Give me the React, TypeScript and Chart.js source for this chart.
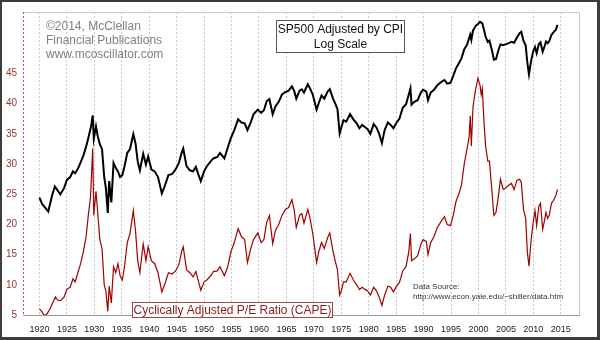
import React, { useEffect, useRef } from "react";
import { Chart, registerables } from "chart.js";

Chart.register(...registerables);

const FONT = "Arial, 'Liberation Sans', sans-serif";

const xTickYears = [1920, 1925, 1930, 1935, 1940, 1945, 1950, 1955, 1960, 1965, 1970, 1975, 1980, 1985, 1990, 1995, 2000, 2005, 2010, 2015];
const yTickValues = [5, 10, 15, 20, 25, 30, 35, 40, 45];

// Cyclically adjusted P/E ratio (CAPE)
const capeYears = [
  1920.0, 1920.4, 1920.9, 1921.4, 1921.9, 1922.4, 1922.9, 1923.4, 1923.9, 1924.5,
  1925.0, 1925.6, 1926.1, 1926.5, 1927.0, 1927.5, 1928.0, 1928.5, 1928.9, 1929.3,
  1929.7, 1929.9, 1930.3, 1930.7, 1931.0, 1931.4, 1931.8, 1932.1, 1932.45, 1932.7,
  1933.1, 1933.5, 1933.9, 1934.3, 1934.7, 1935.1, 1935.5, 1936.0, 1936.5, 1937.1,
  1937.5, 1937.9, 1938.3, 1938.9, 1939.4, 1939.8, 1940.4, 1941.0, 1941.6, 1942.3,
  1942.8, 1943.5, 1944.2, 1944.8, 1945.4, 1945.9, 1946.2, 1946.8, 1947.4, 1948.0,
  1948.5, 1949.0, 1949.4, 1950.0, 1950.5, 1951.2, 1951.7, 1952.4, 1952.9, 1953.7,
  1954.3, 1954.9, 1955.5, 1956.2, 1956.8, 1957.4, 1957.9, 1958.5, 1959.0, 1959.8,
  1960.4, 1960.9, 1961.4, 1961.9, 1962.5, 1963.0, 1963.6, 1964.2, 1964.8, 1965.4,
  1966.0, 1966.4, 1966.8, 1967.4, 1967.8, 1968.2, 1968.9, 1969.3, 1969.8, 1970.5,
  1970.9, 1971.4, 1971.9, 1972.5, 1972.9, 1973.5, 1973.8, 1974.3, 1974.7, 1975.0,
  1975.4, 1975.9, 1976.6, 1977.2, 1977.8, 1978.3, 1978.8, 1979.4, 1979.8, 1980.3,
  1980.9, 1981.4, 1981.9, 1982.4, 1982.9, 1983.5, 1984.0, 1984.5, 1985.0, 1985.6,
  1986.2, 1986.8, 1987.3, 1987.6, 1987.8, 1988.3, 1988.9, 1989.5, 1989.9, 1990.5,
  1990.8, 1991.3, 1991.9, 1992.5, 1993.2, 1993.8, 1994.3, 1994.9, 1995.4, 1995.9,
  1996.4, 1996.9, 1997.4, 1997.9, 1998.3, 1998.5, 1998.7, 1999.0, 1999.5, 1999.9,
  2000.3, 2000.5, 2000.7, 2001.0, 2001.3, 2001.7, 2002.0, 2002.5, 2002.8, 2003.2,
  2003.6, 2004.0, 2004.5, 2004.9, 2005.5, 2006.0, 2006.5, 2007.0, 2007.5, 2007.8,
  2008.2, 2008.6, 2008.9, 2009.2, 2009.6, 2010.0, 2010.3, 2010.6, 2011.0, 2011.3,
  2011.7, 2012.0, 2012.3, 2012.6, 2012.9, 2013.3, 2013.7, 2014.1, 2014.4,
];
const capeValues = [
  6.0, 5.6, 4.9, 5.2, 6.0, 7.0, 8.0, 7.4, 7.4, 8.0,
  9.3, 9.6, 11.0, 10.5, 12.0, 13.5, 15.5, 18.0, 21.5, 24.5,
  32.6, 21.5, 25.5, 21.0, 17.5, 16.0, 10.0, 9.0, 5.6, 9.8,
  7.0, 13.0, 12.0, 13.5, 11.5, 10.8, 13.0, 17.0, 18.5, 22.3,
  19.0, 14.0, 12.0, 16.8, 14.0, 16.3, 14.0, 13.5, 12.0, 8.8,
  10.0, 12.0, 11.8, 12.3, 13.3, 15.5, 16.3, 12.5, 12.0, 11.3,
  12.2, 10.5, 9.1, 10.5, 10.8, 11.5, 12.2, 12.3, 13.0, 11.5,
  13.0, 15.5, 17.0, 19.3, 18.0, 17.5, 13.7, 16.0, 17.5, 18.6,
  17.0, 17.5, 20.3, 21.5, 16.8, 19.0, 20.0, 21.5, 22.5, 22.8,
  24.1, 22.5, 19.5, 21.5, 21.8, 20.2, 22.5, 21.0, 18.5, 13.7,
  15.5, 17.0, 16.0, 17.8, 18.6, 15.5, 14.3, 12.5, 8.3, 9.0,
  10.5, 10.5, 11.9, 10.8, 10.0, 9.2, 9.6, 9.2, 9.0, 8.3,
  9.6, 9.0, 8.0, 6.6, 8.3, 9.8, 9.6, 8.8, 9.7, 10.4,
  12.3, 13.0, 15.5, 18.5, 14.0, 14.3, 14.8, 16.7, 17.5, 17.2,
  15.0, 17.0, 18.0, 19.5, 20.5, 21.3, 20.0, 19.8, 21.5, 23.8,
  25.0, 26.5, 30.0, 32.5, 34.5, 38.0, 33.0, 39.5, 42.5, 44.2,
  43.0, 41.5, 42.5, 37.0, 33.0, 30.5, 30.5, 25.0, 21.5, 22.0,
  24.5, 27.5, 25.8, 26.0, 26.5, 26.8, 25.8, 27.3, 27.5, 27.0,
  22.5, 21.0, 15.5, 13.1, 17.5, 20.5, 22.3, 19.8, 23.0, 23.5,
  19.2, 20.5, 22.0, 21.0, 21.5, 23.5, 24.0, 24.8, 25.8,
];

// S&P 500 adjusted by CPI (real price, log scale)
const spYears = [
  1920.0, 1920.5, 1921.0, 1921.6, 1922.3, 1922.8, 1923.3, 1923.8, 1924.5, 1925.0,
  1925.6, 1926.1, 1926.5, 1927.0, 1927.5, 1928.0, 1928.5, 1929.0, 1929.4, 1929.7,
  1929.9, 1930.3, 1930.6, 1931.0, 1931.4, 1931.8, 1932.1, 1932.45, 1932.7, 1933.1,
  1933.5, 1933.9, 1934.3, 1934.7, 1935.1, 1935.5, 1936.0, 1936.5, 1937.1, 1937.5,
  1937.9, 1938.3, 1938.9, 1939.4, 1939.8, 1940.4, 1941.0, 1941.6, 1942.3, 1942.8,
  1943.5, 1944.2, 1944.8, 1945.4, 1945.9, 1946.2, 1946.8, 1947.4, 1948.0, 1948.5,
  1949.0, 1949.4, 1950.0, 1950.5, 1951.2, 1951.7, 1952.4, 1952.9, 1953.7, 1954.3,
  1954.9, 1955.5, 1956.2, 1956.8, 1957.4, 1957.9, 1958.5, 1959.0, 1959.8, 1960.4,
  1960.9, 1961.4, 1961.9, 1962.5, 1963.0, 1963.6, 1964.2, 1964.8, 1965.4, 1966.0,
  1966.4, 1966.8, 1967.4, 1967.8, 1968.2, 1968.9, 1969.3, 1969.8, 1970.5, 1970.9,
  1971.4, 1971.9, 1972.5, 1972.9, 1973.5, 1973.8, 1974.3, 1974.7, 1975.0, 1975.4,
  1975.9, 1976.6, 1977.2, 1977.8, 1978.3, 1978.8, 1979.4, 1979.8, 1980.3, 1980.9,
  1981.4, 1981.9, 1982.4, 1982.9, 1983.5, 1984.0, 1984.5, 1985.0, 1985.6, 1986.2,
  1986.8, 1987.3, 1987.6, 1987.8, 1988.3, 1988.9, 1989.5, 1989.9, 1990.5, 1990.8,
  1991.3, 1991.9, 1992.5, 1993.2, 1993.8, 1994.3, 1994.9, 1995.4, 1995.9, 1996.4,
  1996.9, 1997.4, 1997.9, 1998.5, 1998.7, 1999.0, 1999.5, 1999.9, 2000.3, 2000.7,
  2001.0, 2001.3, 2001.7, 2002.0, 2002.5, 2002.8, 2003.2, 2003.6, 2004.0, 2004.5,
  2004.9, 2005.5, 2006.0, 2006.5, 2007.0, 2007.5, 2007.8, 2008.2, 2008.6, 2008.9,
  2009.2, 2009.6, 2010.0, 2010.3, 2010.6, 2011.0, 2011.3, 2011.7, 2012.0, 2012.3,
  2012.6, 2012.9, 2013.3, 2013.7, 2014.1, 2014.4,
];
const spValues = [
  106, 95, 90, 84, 110, 128, 120, 112, 125, 143,
  150, 165, 160, 172, 192, 215, 250, 300, 350, 423,
  285, 352, 300, 260, 240, 150, 125, 82, 140, 98,
  190, 175, 165, 150, 155, 180, 225, 240, 308, 265,
  195, 168, 222, 185, 212, 170, 165, 150, 114, 128,
  155, 158, 170, 190, 225, 242, 180, 168, 165, 178,
  155, 140, 165, 180, 195, 205, 210, 225, 205, 245,
  290, 330, 395, 375, 370, 330, 375, 430, 465, 440,
  460, 535, 555, 430, 490, 530, 600, 625, 640, 688,
  640, 560, 640, 655, 620, 712, 665, 600, 465, 520,
  590, 560, 630, 655, 560, 525, 470, 312, 345, 390,
  380, 432, 395, 370, 340, 360, 345, 335, 310, 365,
  345, 310, 265, 330, 375, 360, 340, 370, 400, 480,
  510, 600, 665, 505, 530, 545, 620, 650, 630, 545,
  620, 650, 700, 740, 765, 720, 730, 820, 930, 1010,
  1100, 1280, 1380, 1640, 1500, 1750, 1900, 1960, 2030, 1980,
  1780, 1580, 1450, 1480, 1240, 1075, 1090, 1250, 1390, 1370,
  1390, 1420, 1450, 1430, 1560, 1680, 1720, 1480, 1370, 1030,
  840, 1060, 1250, 1330, 1200, 1400, 1440, 1230, 1330, 1460,
  1420, 1470, 1630, 1710, 1780, 1930,
];

const copyrightLines = ["\u00A92014, McClellan", "Financial Publications", "www.mcoscillator.com"];
const spTitleLines = ["SP500 Adjusted by CPI", "Log Scale"];
const capeTitle = "Cyclically Adjusted P/E Ratio (CAPE)";
const sourceLines = ["Data Source:", "http://www.econ.yale.edu/~shiller/data.htm"];

const framePlugin = {
  id: "frame",
  beforeDraw(chart: any) {
    const { ctx, width, height } = chart;
    ctx.save();
    ctx.fillStyle = "#ffffff";
    ctx.fillRect(0, 0, width, height);
    ctx.restore();
  },
  beforeDatasetsDraw(chart: any) {
    const { ctx, chartArea: a } = chart;
    ctx.save();
    ctx.lineWidth = 1;
    ctx.strokeStyle = "#c8c8c8";
    ctx.beginPath();
    ctx.moveTo(a.left, a.top + 0.5);
    ctx.lineTo(a.right - 0.5, a.top + 0.5);
    ctx.lineTo(a.right - 0.5, a.bottom);
    ctx.stroke();
    ctx.strokeStyle = "#9a9a9a";
    ctx.beginPath();
    ctx.moveTo(a.left, a.bottom + 0.5);
    ctx.lineTo(a.right, a.bottom + 0.5);
    ctx.stroke();
    ctx.strokeStyle = "#c05050";
    ctx.setLineDash([2, 2]);
    ctx.beginPath();
    ctx.moveTo(a.left + 0.5, a.top);
    ctx.lineTo(a.left + 0.5, a.bottom);
    ctx.stroke();
    ctx.restore();
  },
  afterDraw(chart: any) {
    const { ctx, width, height } = chart;
    ctx.save();
    // copyright
    ctx.font = `12px ${FONT}`;
    ctx.fillStyle = "#7b8189";
    ctx.textAlign = "left";
    ctx.textBaseline = "middle";
    copyrightLines.forEach((t, i) => ctx.fillText(t, 46, 27 + i * 14));

    // SP500 box
    ctx.fillStyle = "#ffffff";
    ctx.fillRect(276, 20, 128, 32);
    ctx.strokeStyle = "#555555";
    ctx.lineWidth = 1;
    ctx.strokeRect(276.5, 20.5, 128, 32);
    ctx.fillStyle = "#111111";
    ctx.textAlign = "center";
    spTitleLines.forEach((t, i) => ctx.fillText(t, 340.5, 29.5 + i * 15));

    // CAPE box
    ctx.fillStyle = "#ffffff";
    ctx.fillRect(132, 302, 200, 15);
    ctx.strokeStyle = "#a04848";
    ctx.strokeRect(132.5, 302.5, 200, 15);
    ctx.fillStyle = "#8b1a1a";
    ctx.fillText(capeTitle, 232.5, 310.5);

    // data source
    ctx.font = `8px ${FONT}`;
    ctx.fillStyle = "#333344";
    ctx.textAlign = "left";
    sourceLines.forEach((t, i) => ctx.fillText(t, 413, 287 + i * 10));

    // outer frame
    ctx.fillStyle = "#3c3c3c";
    ctx.fillRect(0, 0, width, 2);
    ctx.fillRect(0, 0, 2, height);
    ctx.fillRect(width - 3, 0, 3, height);
    ctx.fillRect(0, height - 3, width, 3);
    ctx.restore();
  },
};

export default function App() {
  const ref = useRef<HTMLCanvasElement | null>(null);
  useEffect(() => {
    if (!ref.current) return;
    const chart = new Chart(ref.current, {
      type: "line",
      data: {
        datasets: [
          {
            label: "SP500 Adjusted by CPI",
            data: spYears.map((x, i) => ({ x, y: spValues[i] })),
            yAxisID: "y2",
            borderColor: "#000000",
            borderWidth: 2,
            pointRadius: 0,
            tension: 0,
            fill: false,
          },
          {
            label: "CAPE",
            data: capeYears.map((x, i) => ({ x, y: capeValues[i] })),
            yAxisID: "y",
            borderColor: "#a00000",
            borderWidth: 1.2,
            pointRadius: 0,
            tension: 0,
            fill: false,
          },
        ],
      },
      options: {
        animation: false,
        responsive: false,
        devicePixelRatio: 1,
        layout: { padding: { left: 0, right: 20, top: 10, bottom: 0 } },
        plugins: { legend: { display: false }, tooltip: { enabled: false } },
        scales: {
          x: {
            type: "linear",
            min: 1917,
            max: 2018.5,
            afterBuildTicks: (s: any) => {
              s.ticks = xTickYears.map((v) => ({ value: v }));
            },
            afterFit: (s: any) => {
              s.height = 25;
            },
            grid: { color: "#c6c6ce", drawTicks: false, lineWidth: 1 },
            border: { display: false, dash: [2, 2] },
            ticks: {
              padding: 9,
              color: "#202030",
              font: { family: FONT, size: 9 },
              maxRotation: 0,
              autoSkip: false,
              callback: (v: any) => String(v),
            },
          },
          y: {
            type: "linear",
            position: "left",
            min: 5,
            max: 55.2,
            afterBuildTicks: (s: any) => {
              s.ticks = yTickValues.map((v) => ({ value: v }));
            },
            afterFit: (s: any) => {
              s.width = 23;
            },
            grid: { display: false, drawTicks: false },
            border: { display: false },
            ticks: {
              padding: 6,
              color: "#993333",
              font: { family: FONT, size: 10 },
              autoSkip: false,
              callback: (v: any) => String(v),
            },
          },
          y2: {
            type: "logarithmic",
            display: false,
            min: 14.8,
            max: 2396,
          },
        },
      },
      plugins: [framePlugin],
    } as any);
    return () => chart.destroy();
  }, []);
  return (
    <div style={{ position: "absolute", left: 0, top: 0, width: 600, height: 340 }}>
      <canvas ref={ref} width={600} height={340} style={{ display: "block" }} />
    </div>
  );
}
